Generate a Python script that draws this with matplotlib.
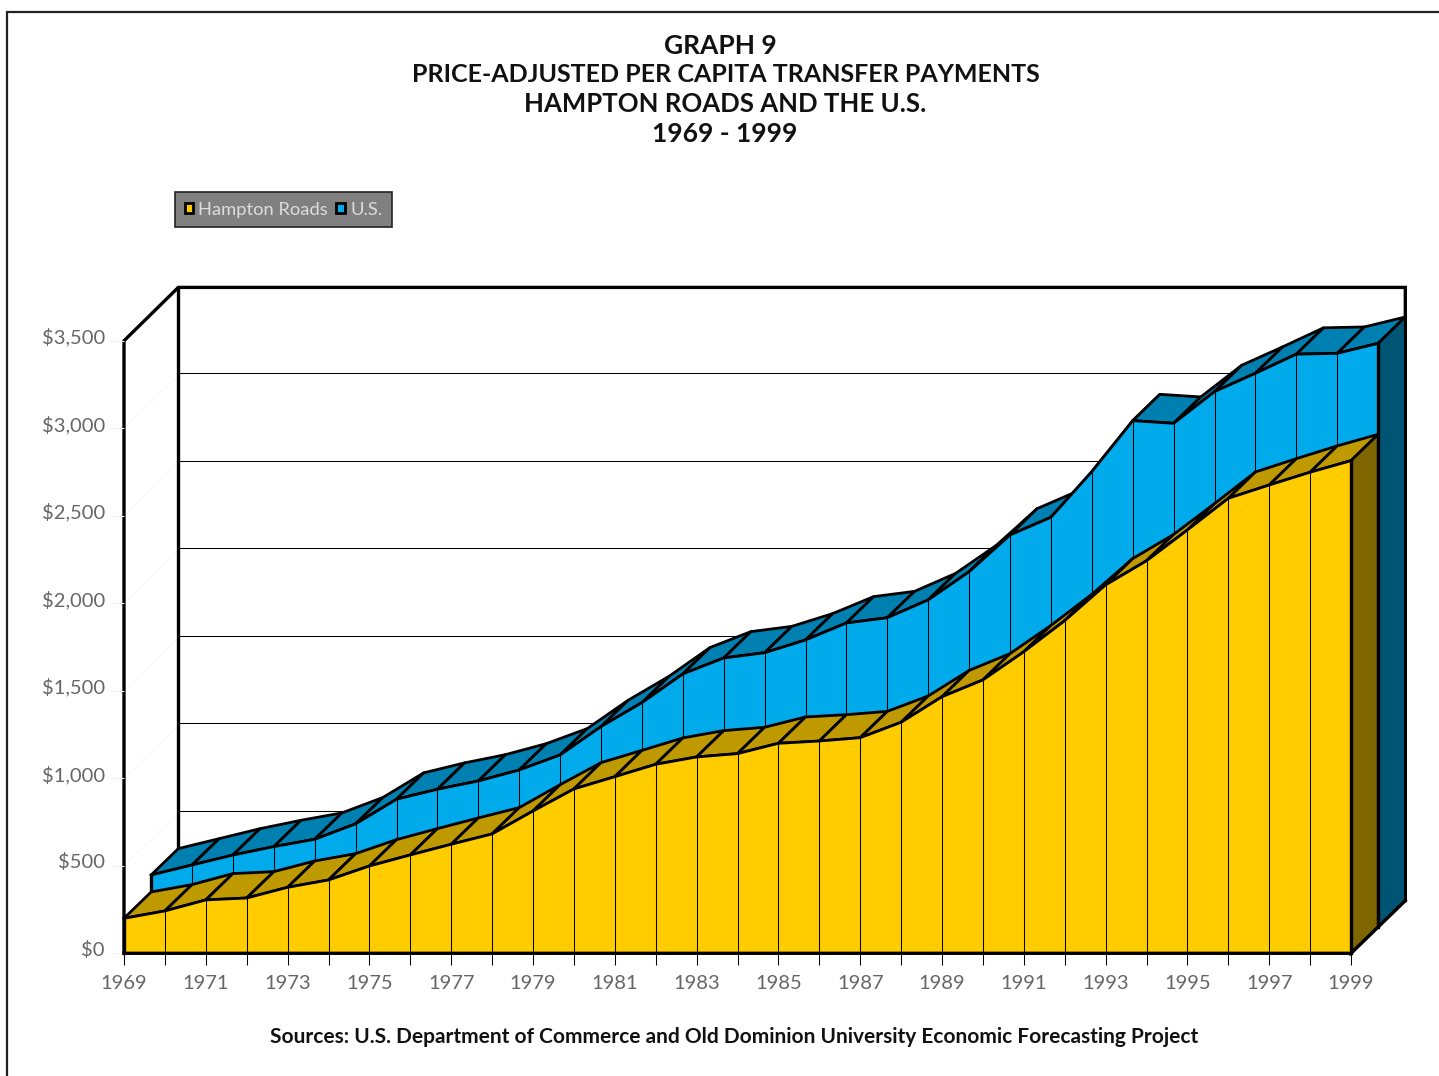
import matplotlib
matplotlib.use('Agg')
import matplotlib.pyplot as plt
from matplotlib.patches import Patch
from matplotlib.transforms import ScaledTranslation
import numpy as np

years = np.arange(1969, 2000)
hampton = np.array([200, 242, 305, 316, 377, 419, 499, 562, 623, 682, 813, 939, 1009, 1080, 1122, 1141,
                    1200, 1213, 1232, 1320, 1466, 1562, 1723, 1901, 2105, 2243, 2419, 2600, 2676, 2749, 2815])
us = np.array([297, 354, 411, 459, 501, 589, 730, 787, 834, 897, 983, 1145, 1282, 1446, 1537, 1567,
               1640, 1737, 1767, 1869, 2030, 2240, 2341, 2602, 2893, 2878, 3059, 3164, 3273, 3278, 3335])
y_ticks = [0, 500, 1000, 1500, 2000, 2500, 3000, 3500]
y_labels = ['$0', '$500', '$1,000', '$1,500', '$2,000', '$2,500', '$3,000', '$3,500']
title_lines = ['GRAPH 9', 'PRICE-ADJUSTED PER CAPITA TRANSFER PAYMENTS', 'HAMPTON ROADS AND THE U.S.', '1969 - 1999']
source = 'Sources: U.S. Department of Commerce and Old Dominion University Economic Forecasting Project'

W, H = 1439, 1076
plt.rcParams['font.family'] = ['Lato', 'DejaVu Sans']

# 3d look: one series takes half of the total depth
dx = 54.3 / 40.9
dy = 52.7 / 0.175
grid_shift = 14  # back wall lines sit a little higher than the depth says

fig = plt.figure(figsize=(W / 100, H / 100), dpi=100)
ax = fig.add_axes([124 / W, (H - 953.3) / H, 1227 / W, 612.5 / H])
ax.set_xlim(1969, 1999)
ax.set_ylim(0, 3500)
for s in ax.spines.values():
    s.set_visible(False)
ax.patch.set_alpha(0)

THICK = 2.4
MID = 2.0
THIN = 0.75


def draw_layer(values, ox, oy, front, top, side, z):
    x = years + ox
    y = values + oy
    # top faces
    for i in range(len(x) - 1):
        ax.fill([x[i], x[i + 1], x[i + 1] + dx / 2, x[i] + dx / 2],
                [y[i], y[i + 1], y[i + 1] + dy / 2, y[i] + dy / 2],
                fc=top, ec='black', lw=MID, joinstyle='round', clip_on=False, zorder=z)
    # right side
    ax.fill([x[-1], x[-1] + dx / 2, x[-1] + dx / 2, x[-1]],
            [oy, oy + dy / 2, y[-1] + dy / 2, y[-1]],
            fc=side, ec='black', lw=MID, clip_on=False, zorder=z + 0.1)
    # front face
    ax.fill_between(x, oy, y, color=front, lw=0, clip_on=False, zorder=z + 0.2)
    ax.vlines(x[1:-1], oy, y[1:-1], color='black', lw=THIN, clip_on=False, zorder=z + 0.3)
    ax.plot(x, y, color='black', lw=MID, clip_on=False, zorder=z + 0.4)
    ax.plot([x[0], x[0]], [oy, y[0]], color='black', lw=THICK, clip_on=False, zorder=z + 0.4)
    ax.plot([x[-1], x[-1]], [oy, y[-1]], color='black', lw=THICK, clip_on=False, zorder=z + 0.4)


# back wall
ax.hlines([v + dy + grid_shift for v in y_ticks[1:-1]], 1969 + dx, 1999 + dx, color='black', lw=THIN, clip_on=False, zorder=1)
for v in y_ticks[1:-1]:
    ax.plot([1969, 1969 + dx], [v, v + dy], color='#f8f8f8', lw=THIN, clip_on=False, zorder=1)
ax.plot([1969, 1969, 1969 + dx, 1999 + dx, 1999 + dx], [0, 3500, 3500 + dy + 4, 3500 + dy + 4, dy],
        color='black', lw=THICK, solid_joinstyle='miter', clip_on=False, zorder=1.5)
ax.plot([1969 + dx, 1969 + dx], [dy, 3500 + dy], color='black', lw=THICK, clip_on=False, zorder=1.5)

draw_layer(us, dx / 2, dy / 2, '#00aaeb', '#007fb1', '#005575', 2)
draw_layer(hampton, 0, 0, '#ffcc00', '#bf9900', '#7f6600', 3)

# floor edge
ax.plot([1969, 1999, 1999 + dx], [0, 0, dy], color='black', lw=THICK, solid_joinstyle='miter',
        clip_on=False, zorder=4)

ax.set_xticks(years)
ax.set_xticklabels([str(y) if (y - 1969) % 2 == 0 else '' for y in years], fontsize=14.5, color='#666666')
ax.tick_params(axis='x', length=8.5, width=0.75, color='black', pad=7.4)
ax.set_yticks(y_ticks)
ax.set_yticklabels(y_labels, fontsize=14.5, color='#666666')
ax.tick_params(axis='y', length=10, width=0.75, color='#f0f0f0', pad=3.8)
for lab in ax.get_yticklabels():
    lab.set_transform(lab.get_transform() + ScaledTranslation(0, 5 / 100, fig.dpi_scale_trans))

# legend
handles = [Patch(fc='#ffcc00', ec='black', lw=2), Patch(fc='#00aaeb', ec='black', lw=2)]
leg = fig.legend(handles, ['Hampton Roads', 'U.S.'], ncol=2, loc='upper left',
                 bbox_to_anchor=(175 / W, 1 - 192 / H), borderaxespad=0, fontsize=13.2,
                 handlelength=0.45, handleheight=0.45, handletextpad=0.3, columnspacing=0.45,
                 borderpad=0.52, fancybox=False, framealpha=1, facecolor='#808080', edgecolor='#222222')
leg.get_frame().set_linewidth(1.2)
for t in leg.get_texts():
    t.set_color('#dddddd')

# titles
title_x = [720, 726, 725, 725]
title_y = [46, 75, 104, 134]
title_size = [19, 18, 18.5, 19]
for tx, ty, fs, line in zip(title_x, title_y, title_size, title_lines):
    fig.text(tx / W, 1 - ty / H, line, ha='center', va='center', fontsize=fs, fontweight='bold', color='#111111')
fig.text(734.5 / W, 1 - 1037 / H, source, ha='center', va='center', fontsize=15.05, fontweight='bold', color='#111111')

# page border
fig.add_artist(plt.Line2D([7 / W, 7 / W, 1], [0, 1 - 12 / H, 1 - 12 / H], color='#222222', lw=1.6, solid_joinstyle='miter'))

fig.savefig('out.png', dpi=100)
